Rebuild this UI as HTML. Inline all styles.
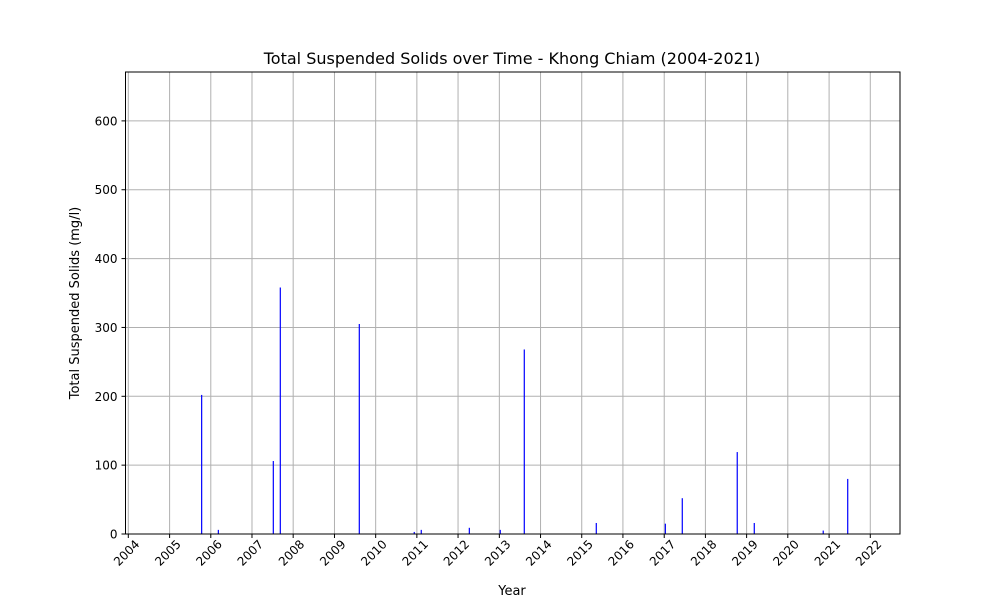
<!DOCTYPE html>
<html><head><meta charset="utf-8"><style>
body{margin:0;background:#fff}
svg{display:block;font-family:"DejaVu Sans","Liberation Sans",sans-serif}
</style></head><body>
<svg id="chart" width="1000" height="600">
<text x="512" y="64" font-size="16" text-anchor="middle">Total Suspended Solids over Time - Khong Chiam (2004-2021)</text>
<text x="512" y="595" font-size="13" text-anchor="middle">Year</text>
<text transform="translate(79,303) rotate(-90)" font-size="13" text-anchor="middle">Total Suspended Solids (mg/l)</text>
<g id="grid"></g><g id="bars"></g><g id="axes"></g>
</svg>
<script>
const dates = ["2005-10-12","2006-03-09","2007-07-09","2007-09-09","2009-08-09","2010-12-09","2011-02-09","2012-04-10","2013-01-09","2013-08-10","2015-05-10","2017-01-11","2017-06-10","2018-10-10","2019-03-10","2020-11-10","2021-06-15"];
const values = [202,6,106,358,305,3,6,9,6,268,16,15,52,119,16,5,80];
const yTicks = [0,100,200,300,400,500,600];
const xTickYears = [2004,2005,2006,2007,2008,2009,2010,2011,2012,2013,2014,2015,2016,2017,2018,2019,2020,2021,2022];

const L=125.5,R=900,T=72,B=534;
const d0=Date.UTC(2004,0,1);
const pxPerDay=0.11285;
function xs(ms){return 128.3+(ms-d0)/86400000*pxPerDay;}
function ys(v){return B-(v/671)*(B-T);}
const NS="http://www.w3.org/2000/svg";
function mk(tag,attrs,parent){const e=document.createElementNS(NS,tag);for(const k in attrs)e.setAttribute(k,attrs[k]);parent.appendChild(e);return e;}
const grid=document.getElementById('grid'),bars=document.getElementById('bars'),axes=document.getElementById('axes');

xTickYears.forEach(y=>{
  const x=xs(Date.UTC(y,0,1));
  const g=mk('line',{x1:x,x2:x,y1:T,y2:B,stroke:'#b0b0b0','stroke-width':1},grid);
  
  
  const t=mk('line',{x1:x,x2:x,y1:B,y2:B+4,stroke:'#000','stroke-width':1},axes);
  
  
  const ax=x+12, ay=B+11;
  const lb=mk('text',{x:ax,y:ay,'font-size':12,'text-anchor':'end',transform:`rotate(-45 ${ax} ${ay})`},axes);
  lb.textContent=y;
  
  
});
yTicks.forEach(v=>{
  const y=ys(v);
  const g=mk('line',{x1:L,x2:R,y1:y,y2:y,stroke:'#b0b0b0','stroke-width':1},grid);
  
  
  const t=mk('line',{x1:L-4,x2:L,y1:y,y2:y,stroke:'#000','stroke-width':1},axes);
  
  
  const lb=mk('text',{x:L-8,y:y+4.5,'font-size':12,'text-anchor':'end'},axes);
  lb.textContent=v;
  
  
});
dates.forEach((d,i)=>{
  const p=d.split('-').map(Number);
  const x=xs(Date.UTC(p[0],p[1]-1,p[2]));
  const y=ys(values[i]);
  const b=mk('rect',{x:x-0.6,y:y,width:1.2,height:B-y,fill:'#0000ff'},bars);
  
  
});
const fr=mk('rect',{x:L,y:T,width:R-L,height:B-T,fill:'none',stroke:'#000','stroke-width':1},axes);


</script>
</body></html>
